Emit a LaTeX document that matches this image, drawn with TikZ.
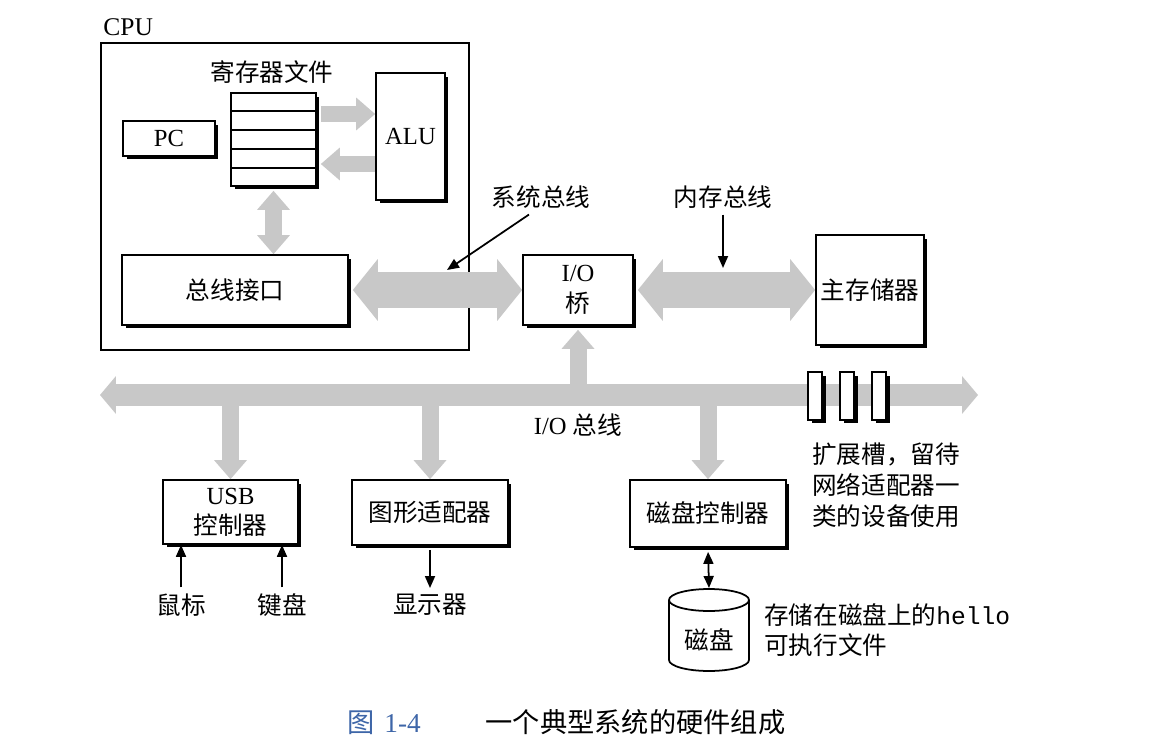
\documentclass[tikz,border=0pt]{standalone}
\usepackage{fontspec}
\usepackage{xcolor}
\usepackage{tikz}
\setmainfont{Liberation Serif}
\setmonofont{Liberation Mono}
\newfontfamily\cjk{Noto Sans CJK SC}
\usetikzlibrary{arrows.meta,shadows,calc}
\definecolor{busgray}{RGB}{200,200,200}
\definecolor{capblue}{RGB}{62,102,168}

\begin{document}
\begin{tikzpicture}[x=0.02cm, y=-0.02cm, font=\fontsize{14}{17}\selectfont,
    box/.style={draw, fill=white, line width=1pt, inner sep=2pt,
        drop shadow={shadow xshift=0.07cm, shadow yshift=-0.07cm, opacity=1, fill=black}},
    cpubox/.style={draw, line width=1.5pt},
    slot/.style={box, line width=0.8pt, minimum width=0.28cm, minimum height=0.96cm, inner sep=0pt},
    bigbus/.style={draw=busgray, line width=0.72cm, >={Triangle[width=1.24cm,length=0.5cm,line width=0pt]}},
    iobus/.style={draw=busgray, line width=0.44cm, >={Triangle[width=0.76cm,length=0.32cm,line width=0pt]}},
    smallbus/.style={draw=busgray, line width=0.34cm, >={Triangle[width=0.66cm,length=0.38cm,line width=0pt]}},
    ptr/.style={line width=1pt, >={Triangle[length=0.24cm,width=0.2cm]}}]

            \useasboundingbox (0,0) rectangle (1157,747);

            % cpu
            \node[cpubox, minimum width=7.36cm, minimum height=6.14cm] (cpu) at (285,196.5) {};
            \node[anchor=base west, inner sep=0pt, font=\fontsize{14.5}{17}\selectfont] (cpulbl) at (103,35) {CPU};
            \node (reglbl) at (272,72) {\cjk 寄存器文件};
            \node[box, minimum width=1.7cm, minimum height=1.86cm] (regs) at (273.5,139.5) {};
            \foreach \i in {1,...,4}
                \draw[line width=0.8pt] ($(regs.north west)!\i/5!(regs.south west)$) -- ($(regs.north east)!\i/5!(regs.south east)$);
            \node[box, minimum width=1.84cm, minimum height=0.7cm] (pc) at (169,138.5) {PC};
            \node[box, minimum width=1.38cm, minimum height=2.54cm] (alu) at (410.5,136.5) {ALU};
            \node[box, minimum width=4.52cm, minimum height=1.4cm] (bif) at (235,290) {\cjk 总线接口};

            % bridge and memory
            \node[box, minimum width=2.2cm, minimum height=1.4cm, align=center] (bridge) at (578,290) {I/O\\[1pt]{\cjk 桥}};
            \node[box, minimum width=2.16cm, minimum height=2.2cm] (mem) at (870,290) {\cjk 主存储器};

            % devices
            \node[box, minimum width=2.7cm, minimum height=1.28cm, align=center] (usb) at (230.5,512) {USB\\{\cjk 控制器}};
            \node[box, minimum width=3.12cm, minimum height=1.3cm] (gfx) at (430,512.5) {\cjk 图形适配器};
            \node[box, minimum width=3.12cm, minimum height=1.34cm] (dctl) at (708,513.5) {\cjk 磁盘控制器};

            % labels
            \node (sysbus) at (541,197) {\cjk 系统总线};
            \node (membus) at (723,197) {\cjk 内存总线};
            \node (iobuslbl) at (578,425) {I/O {\cjk 总线}};
            \node[anchor=north west, align=left, font=\cjk\fontsize{14}{17.6}\selectfont] (slotlbl) at (806,437) {扩展槽，留待\\网络适配器一\\类的设备使用};
            \node (mouse) at (181,605) {\cjk 鼠标};
            \node (kbd) at (282,605) {\cjk 键盘};
            \node (disp) at (430,605) {\cjk 显示器};
            \node[anchor=west, align=left] (hellolbl) at (758,630) {{\cjk 存储在磁盘上的}\texttt{hello}\\{\cjk 可执行文件}};
            \node[anchor=west, font=\fontsize{15.5}{18}\selectfont] (caption) at (341,722)
                {{\color{capblue}{\cjk 图}\hspace{0.2cm}1-4}\hspace{1.3cm}{\cjk 一个典型系统的硬件组成}};

            % disk
            \draw[line width=1pt, fill=white] (669,600) -- (669,660) arc[start angle=180, end angle=360, x radius=0.8cm, y radius=0.22cm] -- (749,600);
            \draw[line width=1pt] (709,600) ellipse [x radius=0.8cm, y radius=0.22cm];
            \node (disk) at (709,640) {\cjk 磁盘};
            \coordinate (disktop) at (709,588);

            % buses
            \draw[smallbus, ->, shorten <=0.08cm] (regs.east |- 0,114) -- (alu.west |- 0,114);
            \draw[smallbus, ->, shorten >=0.08cm] (alu.west |- 0,164) -- (regs.east |- 0,164);
            \draw[smallbus, <->, shorten <=0.08cm] (regs.south) -- (regs.south |- bif.north);
            \draw[bigbus, <->, shorten <=0.08cm] (bif.east) -- (bridge.west);
            \draw[bigbus, <->, shorten <=0.08cm] (bridge.east) -- (mem.west);
            \coordinate (busL) at (100,395);
            \coordinate (busR) at (978,395);
            \draw[iobus, <->] (busL) -- (busR);
            \draw[smallbus, ->, shorten >=0.08cm] (bridge.south |- busL) -- (bridge.south);
            \foreach \dev in {usb,gfx,dctl}
                \draw[smallbus, ->] (\dev.north |- busL) -- (\dev.north);

            % expansion slots
            \foreach \x [count=\i] in {815,847,879}
                \node[slot] (slot\i) at (\x,396) {};

            % pointers
            \coordinate (sysbusTip) at (447,270);
            \coordinate (membusTip) at (723,268);
            \draw[ptr, ->] ($(sysbus.south)+(-12,0)$) -- (sysbusTip);
            \draw[ptr, ->] (membus.south) -- (membusTip);
            \draw[ptr, ->] (mouse.north) -- (mouse.north |- usb.south);
            \draw[ptr, ->] (kbd.north) -- (kbd.north |- usb.south);
            \draw[ptr, ->, shorten <=0.08cm] (gfx.south) -- (disp.north);
            \draw[ptr, <->, shorten <=0.08cm] (dctl.south) -- (disktop);
\end{tikzpicture}
\end{document}
